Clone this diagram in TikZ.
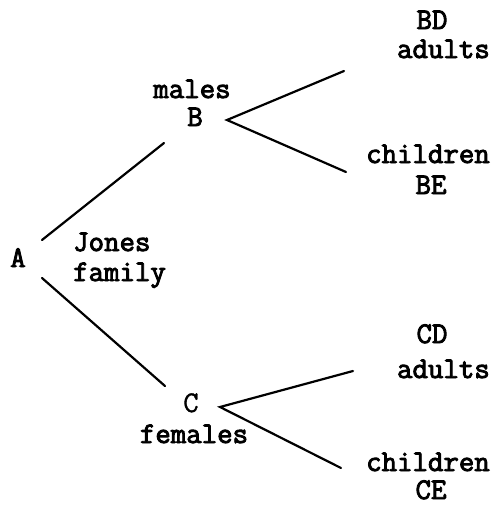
\documentclass[tikz,border=0pt]{standalone}
\usepackage{fontspec}
\newfontfamily\typewriter[FakeBold=3]{Latin Modern Mono}
\newfontfamily\typewriterlight[FakeBold=1.2]{Latin Modern Mono}
\begin{document}
\begin{tikzpicture}[x=1pt,y=-1pt,
  lbl/.style={inner sep=0pt,font=\fontsize{30}{30}\selectfont\typewriter},
  lbllight/.style={inner sep=0pt,font=\fontsize{30}{30}\selectfont\typewriterlight},
  branch/.style={line width=2.2pt,line cap=round}]
\useasboundingbox (0,0) rectangle (496,507);

% root
\node[lbl,anchor=base] (A) at (18,267) {A};
\node[lbl,anchor=base west] (jones) at (73,251) {Jones};
\node[lbl,anchor=base west] (family) at (73,281) {family};

% males branch
\node[lbl,anchor=base] (males) at (192,98) {males};
\node[lbl,anchor=base] (B) at (195,126) {B};
\node[lbl,anchor=base] (BD) at (432,29) {BD};
\node[lbl,anchor=base east] (adultsB) at (490,58) {adults};
\node[lbl,anchor=base east] (childrenB) at (490,163) {children};
\node[lbl,anchor=base] (BE) at (431,194) {BE};

% females branch
\node[lbllight,anchor=base] (C) at (191,412) {C};
\node[lbl,anchor=base] (females) at (194,443) {females};
\node[lbl,anchor=base] (CD) at (432,343) {CD};
\node[lbl,anchor=base east] (adultsC) at (490,378) {adults};
\node[lbl,anchor=base east] (childrenC) at (490,471) {children};
\node[lbl,anchor=base] (CE) at (431,499) {CE};

% connector ends
\coordinate (Aup) at (42,240);
\coordinate (Adown) at (42,278);
\coordinate (Bin) at (164,143);
\coordinate (Cin) at (165,386);
\coordinate (Bfork) at (227,120);
\coordinate (Cfork) at (220,407);
\coordinate (BDend) at (344,71);
\coordinate (BEend) at (346,172);
\coordinate (CDend) at (353,371);
\coordinate (CEend) at (341,468);

\draw[branch] (Aup) -- (Bin);
\draw[branch] (Adown) -- (Cin);
\draw[branch] (BDend) -- (Bfork) -- (BEend);
\draw[branch] (CDend) -- (Cfork) -- (CEend);
\end{tikzpicture}
\end{document}
